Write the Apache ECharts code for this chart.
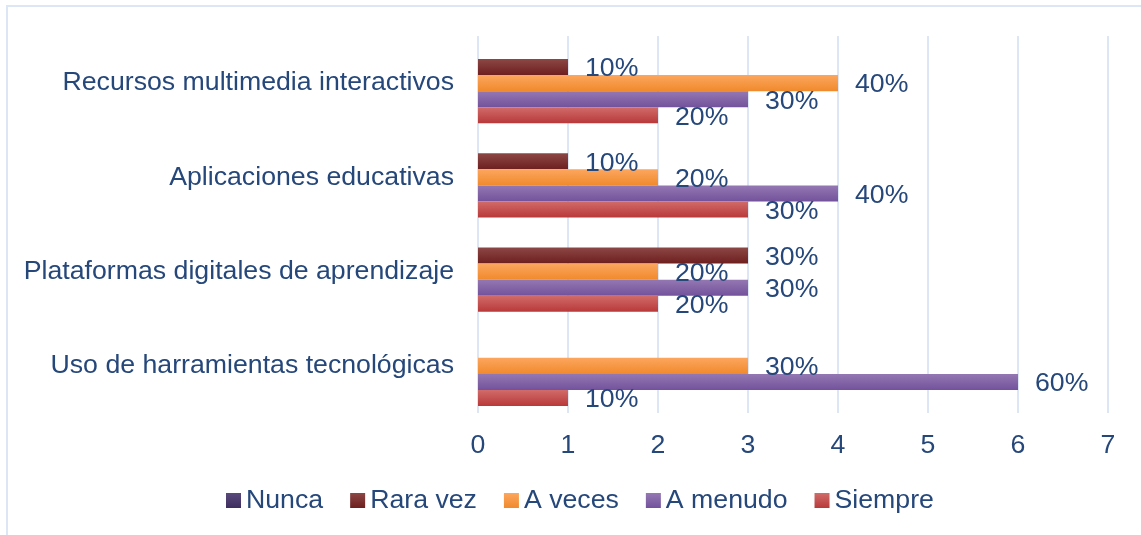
<!DOCTYPE html>
<html>
<head>
<meta charset="utf-8">
<title>Uso de herramientas</title>
<script src="https://cdn.jsdelivr.net/npm/echarts@6/dist/echarts.min.js"></script>
<style>
  html, body { margin: 0; padding: 0; background: #fff; overflow: hidden; }
  #frame {
    position: absolute; left: 6px; top: 5px;
    width: 1300px; height: 700px;
    border: 2px solid #DCE6F5;
  }
  #chart { position: absolute; left: 0; top: 0; width: 1141px; height: 535px; }
</style>
</head>
<body>
<div id="frame"></div>
<div id="chart"></div>
<script>
const categories = [
  'Recursos multimedia interactivos',
  'Aplicaciones educativas',
  'Plataformas digitales de aprendizaje',
  'Uso de harramientas tecnológicas'
]
const seriesNames = ['Nunca', 'Rara vez', 'A veces', 'A menudo', 'Siempre']
const nunca = [0, 0, 0, 0]
const raraVez = [1, 1, 3, 0]
const aVeces = [4, 2, 2, 3]
const aMenudo = [3, 4, 3, 6]
const siempre = [2, 3, 2, 1]
const xTicks = [0, 1, 2, 3, 4, 5, 6, 7]

const textColor = '#25477A'
const font = 'Liberation Sans, Arial, sans-serif'
const fs = 26.7

// colores con degradado vertical (claro arriba)
const palette = [
  ['#5A4A7C', '#3E2D5E'],
  ['#8C4745', '#6D1F1E'],
  ['#FCA65E', '#F08A2C'],
  ['#9478B2', '#73529C'],
  ['#D06C6A', '#B9393A']
]

const grad = (pair) => new echarts.graphic.LinearGradient(0, 0, 0, 1, [
  { offset: 0, color: pair[0] },
  { offset: 1, color: pair[1] }
])

const values = [nunca, raraVez, aVeces, aMenudo, siempre]

const chart = echarts.init(document.getElementById('chart'))

const option = {
  animation: false,
  textStyle: { fontFamily: font },
  legend: {
    data: seriesNames,
    left: 221,
    top: 482,
    icon: 'rect',
    itemWidth: 15,
    itemHeight: 15,
    itemGap: 27,
    textStyle: { fontSize: fs, color: textColor, fontFamily: font }
  },
  grid: {
    left: 478,
    right: 33,
    top: 36,
    bottom: 122,
    outerBoundsMode: 'none'
  },
  xAxis: {
    type: 'value',
    min: xTicks[0],
    max: xTicks[xTicks.length - 1],
    interval: 1,
    axisLine: { show: false },
    axisTick: { show: false },
    axisLabel: { fontSize: fs, color: textColor, margin: 19, fontFamily: font },
    splitLine: { lineStyle: { color: '#DCE6F5', width: 2 } }
  },
  yAxis: {
    type: 'category',
    inverse: true,
    data: categories,
    axisLine: { show: false },
    axisTick: { show: false },
    axisLabel: { fontSize: fs, color: textColor, margin: 24, fontFamily: font }
  },
  series: seriesNames.map((name, i) => ({
    name,
    type: 'bar',
    barGap: 0,
    barCategoryGap: '15%',
    data: values[i],
    itemStyle: { color: grad(palette[i]) },
    label: {
      show: true,
      position: 'right',
      distance: 17,
      offset: [0, 2],
      fontSize: fs,
      color: textColor,
      fontFamily: font,
      formatter: (p) => (p.value ? p.value * 10 + '%' : '')
    }
  }))
}

chart.setOption(option)
window.addEventListener('resize', () => chart.resize())
</script>
</body>
</html>
